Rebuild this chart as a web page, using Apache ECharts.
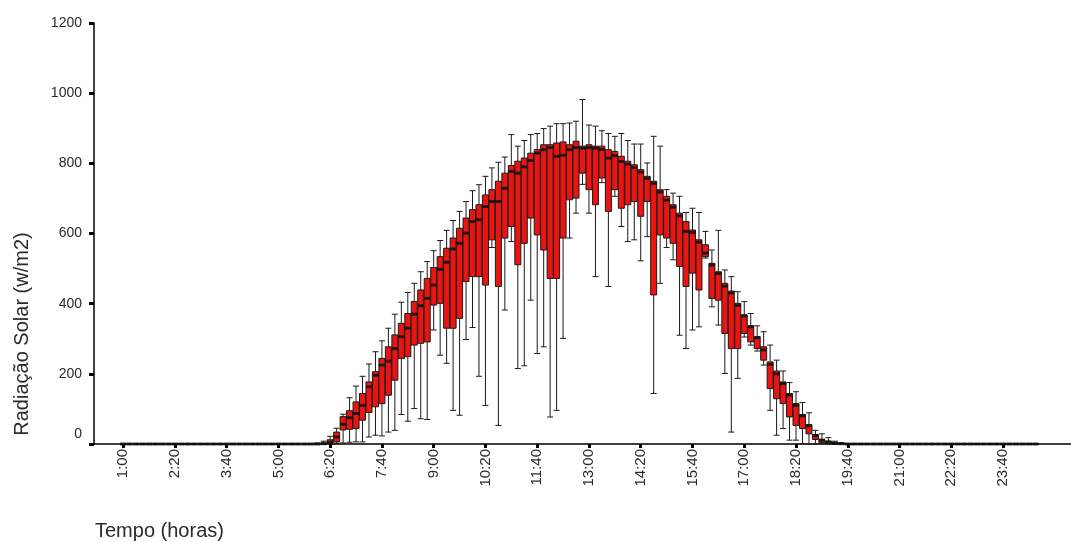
<!DOCTYPE html>
<html>
<head>
<meta charset="utf-8">
<script src="https://cdn.jsdelivr.net/npm/echarts@6/dist/echarts.min.js"></script>
<style>
html,body{margin:0;padding:0;background:#fff;}
#chart{width:1071px;height:542px;}
</style>
</head>
<body>
<div id="chart"></div>
<script>
// Time categories every 10 minutes, 1:00 .. 24:50 (144 slots)
var times = [];
for (var t = 60; t <= 1490; t += 10) {
  times.push(Math.floor(t / 60) + ':' + (t % 60 < 10 ? '0' : '') + (t % 60));
}
var padBefore = ['0:20', '0:30', '0:40', '0:50'];
var padAfter = ['25:00', '25:10', '25:20'];

// Box statistics per 10-min slot (w/m2), index 0 = 1:00
var minVals = [
  0,0,0,0,0,0,0,0,0,0, 0,0,0,0,0,0,0,0,0,0, 0,0,0,0,0,0,0,0,0,0,
  0,0,0,2,3,5,6,6,20,25,
  23,34,39,84,65,101,72,70,325,253,
  230,96,82,298,332,193,110,560,53,382,
  577,215,223,410,258,277,77,96,301,587,
  658,740,658,477,745,449,706,620,577,582,
  522,591,144,458,560,525,310,272,325,334,
  530,391,339,201,34,187,305,282,265,225,
  96,25,44,11,11,1,0,0,0,0,
  0,0,0,0,0,0,0,0,0,0, 0,0,0,0,0,0,0,0,0,0, 0,0,0,0,0,0,0,0,0,0, 0,0
];
var q1Vals = [
  0,0,0,0,0,0,0,0,0,0, 0,0,0,0,0,0,0,0,0,0, 0,0,0,0,0,0,0,0,0,0,
  0,0,2,6,40,42,44,68,90,106,
  115,139,182,244,249,282,287,291,396,401,
  330,330,358,463,477,477,453,582,449,587,
  620,511,572,644,596,553,472,472,587,696,
  701,772,725,682,758,663,725,672,682,691,
  649,691,425,596,587,572,506,449,487,439,
  534,415,410,315,272,272,315,291,272,239,
  158,129,115,77,53,44,29,13,4,1,
  0,0,0,0,0,0,0,0,0,0, 0,0,0,0,0,0,0,0,0,0, 0,0,0,0,0,0,0,0,0,0, 0,0
];
var medVals = [
  0,0,0,0,0,0,0,0,0,0, 0,0,0,0,0,0,0,0,0,0, 0,0,0,0,0,0,0,0,0,0,
  0,1,5,20,56,75,87,110,163,196,
  225,236,272,306,330,370,394,415,453,498,
  518,556,572,601,634,639,677,691,691,729,
  777,772,790,808,829,839,845,820,823,839,
  845,843,845,843,840,815,822,805,798,788,
  775,757,743,718,695,675,650,606,603,575,
  544,510,486,450,430,395,365,334,303,268,
  227,200,172,139,110,80,52,24,11,6,
  2,1,0,0,0,0,0,0,0,0, 0,0,0,0,0,0,0,0,0,0, 0,0,0,0,0,0,0,0,0,0, 0,0
];
var q3Vals = [
  0,0,0,0,0,0,0,0,0,0, 0,0,0,0,0,0,0,0,0,0, 0,0,0,0,0,0,0,0,0,0,
  1,3,12,34,78,95,120,144,177,206,
  244,277,311,344,372,406,439,472,503,534,
  558,587,615,644,668,682,710,725,749,772,
  794,806,815,829,839,853,853,858,861,853,
  863,849,853,849,849,839,834,820,806,796,
  782,763,749,725,706,682,658,634,610,582,
  568,515,491,458,436,401,368,337,306,277,
  234,208,177,144,115,84,55,27,13,8,
  4,2,0,0,0,0,0,0,0,0, 0,0,0,0,0,0,0,0,0,0, 0,0,0,0,0,0,0,0,0,0, 0,0
];
var maxVals = [
  0,0,0,0,0,0,0,0,0,0, 0,0,0,0,0,0,0,0,0,0, 0,0,0,0,0,0,0,0,0,0,
  3,8,22,45,85,132,165,193,228,263,
  294,330,370,404,432,458,491,520,551,580,
  609,637,663,691,722,739,763,787,803,818,
  882,849,865,882,885,899,906,913,913,915,
  920,982,909,906,893,885,877,885,865,855,
  855,801,877,849,725,715,706,660,672,660,
  606,553,609,496,477,434,406,372,337,320,
  282,239,208,175,149,118,89,39,29,18,
  8,4,0,0,0,0,0,0,0,0, 0,0,0,0,0,0,0,0,0,0, 0,0,0,0,0,0,0,0,0,0, 0,0
];
var yTicks = [0, 200, 400, 600, 800, 1000, 1200];

var cats = padBefore.concat(times, padAfter);
var off = padBefore.length;
var boxData = [];
var medData = [];
for (var i = 0; i < cats.length; i++) {
  var k = i - off;
  if (k < 0 || k >= times.length) { boxData.push('-'); continue; }
  boxData.push([minVals[k], q1Vals[k], medVals[k], q3Vals[k], maxVals[k]]);
  medData.push([i, medVals[k]]);
}
function showIdx(index) {
  var k = index - off;
  return k >= 0 && k < times.length && k % 8 === 0 && k <= 136;
}

var FONT = '"Liberation Sans", Arial, sans-serif';
var chart = echarts.init(document.getElementById('chart'), null, {renderer: 'canvas'});
chart.setOption({
  animation: false,
  backgroundColor: '#ffffff',
  grid: {left: 94, right: 0, top: 23, bottom: 98, containLabel: false},
  xAxis: {
    type: 'category',
    data: cats,
    boundaryGap: true,
    axisLine: {show: true, lineStyle: {color: '#000', width: 1.5}},
    axisTick: {show: true, interval: function (idx) { return showIdx(idx); }, alignWithLabel: true,
               length: 4, lineStyle: {color: '#000', width: 3}},
    axisLabel: {interval: function (idx) { return showIdx(idx); }, rotate: 90, margin: 5,
                fontSize: 15, color: '#2a2a2a', fontFamily: FONT},
    splitLine: {show: false}
  },
  yAxis: {
    type: 'value',
    min: yTicks[0],
    max: yTicks[yTicks.length - 1],
    interval: 200,
    axisLine: {show: true, lineStyle: {color: '#000', width: 1.5}},
    axisTick: {show: true, length: 5, lineStyle: {color: '#000', width: 3}},
    axisLabel: {
      margin: 12, fontSize: 14, color: '#2a2a2a', fontFamily: FONT,
      formatter: function (v) { return v === 0 ? '{z|0}' : String(v); },
      rich: {z: {fontSize: 14, color: '#2a2a2a', fontFamily: FONT, padding: [0, 0, 20, 0]}}
    },
    splitLine: {show: false}
  },
  series: [
    {
      type: 'boxplot',
      data: boxData,
      boxWidth: [6, 6],
      itemStyle: {color: '#ec1410', borderColor: '#1a1a1a', borderWidth: 1},
      emphasis: {disabled: true}
    },
    {
      type: 'scatter',
      data: medData,
      symbol: 'rect',
      symbolSize: [6, 3],
      itemStyle: {color: '#111'},
      z: 5,
      emphasis: {disabled: true}
    }
  ],
  graphic: [
    {type: 'text', left: 95, top: 521,
     style: {text: 'Tempo (horas)', font: '20px ' + FONT, fill: '#2a2a2a'}},
    {type: 'text', x: 22, y: 334, rotation: Math.PI / 2,
     style: {text: 'Radiação Solar (w/m2)', font: '20px ' + FONT, fill: '#2a2a2a',
             textAlign: 'center', textVerticalAlign: 'middle'}}
  ]
});
</script>
</body>
</html>
